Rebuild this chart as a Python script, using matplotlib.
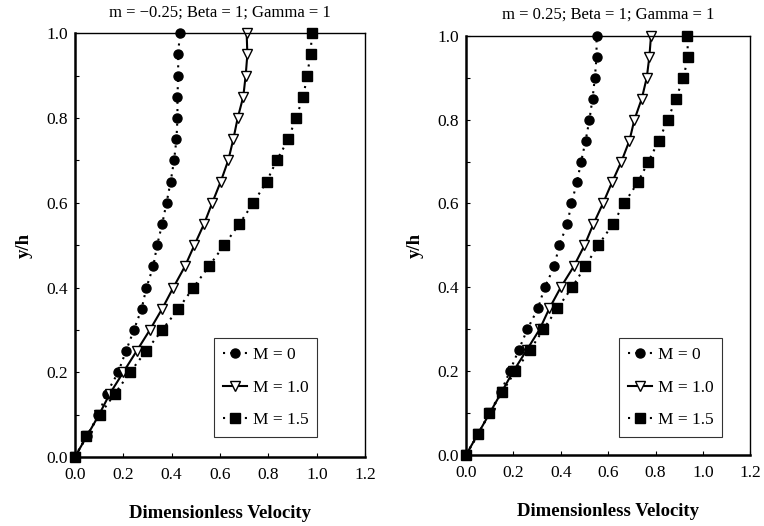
import matplotlib
matplotlib.use("Agg")
import matplotlib.pyplot as plt
from matplotlib.ticker import MultipleLocator

plt.rcParams['font.family'] = ['Liberation Serif', 'DejaVu Serif']

# y positions shared by every curve
y_h = [0.0, 0.05, 0.10, 0.15, 0.20, 0.25, 0.30, 0.35, 0.40, 0.45, 0.50,
       0.55, 0.60, 0.65, 0.70, 0.75, 0.80, 0.85, 0.90, 0.95, 1.0]

# m = -0.25
left_m0 = [0.0, 0.051, 0.097, 0.131, 0.179, 0.211, 0.244, 0.276, 0.296, 0.324, 0.340,
           0.361, 0.379, 0.396, 0.410, 0.420, 0.424, 0.424, 0.427, 0.427, 0.434]
left_m10 = [0.0, 0.050, 0.100, 0.145, 0.200, 0.255, 0.310, 0.361, 0.407, 0.455, 0.494,
            0.534, 0.568, 0.603, 0.634, 0.655, 0.673, 0.696, 0.706, 0.713, 0.710]
left_m15 = [0.0, 0.048, 0.103, 0.166, 0.228, 0.294, 0.361, 0.428, 0.490, 0.554, 0.617,
            0.680, 0.738, 0.793, 0.834, 0.883, 0.913, 0.945, 0.959, 0.975, 0.979]

# m = 0.25
right_m0 = [0.0, 0.051, 0.099, 0.147, 0.185, 0.222, 0.259, 0.304, 0.332, 0.373, 0.393,
            0.427, 0.445, 0.468, 0.486, 0.505, 0.521, 0.534, 0.544, 0.551, 0.551]
right_m10 = [0.0, 0.050, 0.100, 0.150, 0.200, 0.256, 0.311, 0.352, 0.400, 0.455, 0.500,
             0.537, 0.578, 0.616, 0.656, 0.690, 0.711, 0.742, 0.763, 0.774, 0.781]
right_m15 = [0.0, 0.051, 0.099, 0.153, 0.208, 0.270, 0.327, 0.386, 0.448, 0.503, 0.558,
             0.619, 0.667, 0.725, 0.770, 0.814, 0.852, 0.886, 0.918, 0.937, 0.934]

labels = ["M = 0", "M = 1.0", "M = 1.5"]
titles = ["m = \u22120.25; Beta = 1; Gamma = 1", "m = 0.25; Beta = 1; Gamma = 1"]

fig = plt.figure(figsize=(7.64, 5.26), dpi=100)
ax1 = fig.add_axes([0.098, 0.131, 0.380, 0.806])
ax2 = fig.add_axes([0.610, 0.135, 0.372, 0.797])


def draw(ax, m0, m10, m15, title, leg_anchor):
    ax.plot(m0, y_h, color='black', linestyle=(0, (1, 2.5)), linewidth=1.5,
            marker='o', markersize=6.5, label=labels[0], clip_on=False)
    ax.plot(m10, y_h, color='black', linestyle='-', linewidth=1.5,
            marker='v', markersize=7.5, markerfacecolor='white',
            markeredgecolor='black', label=labels[1], clip_on=False)
    ax.plot(m15, y_h, color='black', linestyle=(0, (1, 2.5)), linewidth=1.5,
            marker='s', markersize=6.5, label=labels[2], clip_on=False)
    ax.set_xlim(0, 1.2)
    ax.set_ylim(0, 1.0)
    ax.xaxis.set_major_locator(MultipleLocator(0.2))
    ax.yaxis.set_major_locator(MultipleLocator(0.2))
    ax.yaxis.set_minor_locator(MultipleLocator(0.1))
    ax.xaxis.set_major_formatter(plt.FormatStrFormatter('%.1f'))
    ax.yaxis.set_major_formatter(plt.FormatStrFormatter('%.1f'))
    ax.tick_params(axis='both', which='both', direction='in', labelsize=12.5,
                   length=3, width=0.8)
    ax.tick_params(axis='y', pad=5)
    ax.tick_params(axis='x', pad=7)
    for sp in ax.spines.values():
        sp.set_linewidth(1.0)
    ax.spines['left'].set_linewidth(1.8)
    ax.spines['bottom'].set_linewidth(1.8)
    ax.set_title(title, fontsize=12, pad=12)
    ax.set_xlabel("Dimensionless Velocity", fontsize=13.5, fontweight='bold', labelpad=16)
    ax.set_ylabel("y/h", fontsize=13.5, fontweight='bold', labelpad=10)
    leg = ax.legend(loc='lower right', bbox_to_anchor=leg_anchor, fontsize=12.5,
                    frameon=True, fancybox=False, edgecolor='black',
                    handlelength=1.4, handletextpad=0.3, borderpad=0.5,
                    labelspacing=0.95, borderaxespad=0)
    leg.get_frame().set_linewidth(0.8)


draw(ax1, left_m0, left_m10, left_m15, titles[0], (0.834, 0.047))
draw(ax2, right_m0, right_m10, right_m15, titles[1], (0.90, 0.043))

fig.savefig("out.png", dpi=100)
